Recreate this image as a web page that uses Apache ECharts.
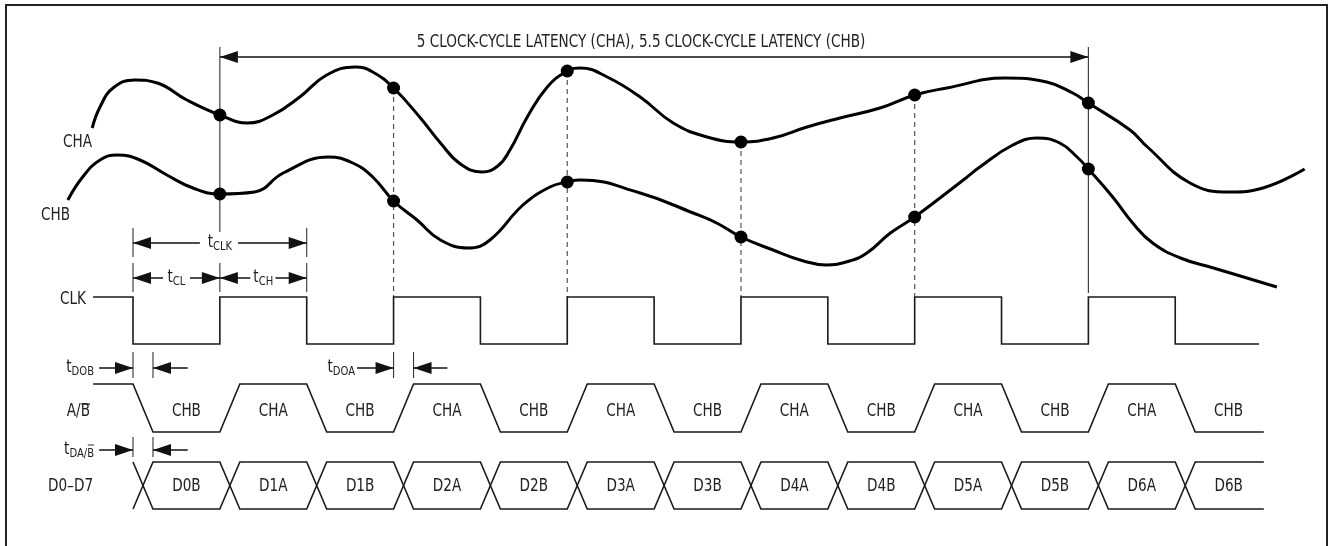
<!DOCTYPE html>
<html><head><meta charset="utf-8">
<script src="https://cdn.jsdelivr.net/npm/echarts@6/dist/echarts.min.js"></script>
<style>html,body{margin:0;padding:0;background:#fff}#c{width:1330px;height:546px}</style>
</head><body><div id="c"></div>
<script>
const FONT = '"Liberation Sans Narrow","DejaVu Sans Condensed","Arial Narrow",sans-serif';
const TEXT_SCALE = 0.89;
// x: time in half clock periods (t = 0 is the first CLK falling edge); y: diagram row position (downwards)
const clockEdges = [0,1,2,3,4,5,6,7,8,9,10,11,12];
const clkStart = -0.46, clkEnd = 12.965, clkHigh = 297, clkLow = 344;
const abStart = -0.46, abEnd = 13.02, abHigh = 384, abLow = 432;
const busEnd = 13.02, busTop = 462, busBottom = 509;
const transition = 0.23;
const abLabels = ['CHB','CHA','CHB','CHA','CHB','CHA','CHB','CHA','CHB','CHA','CHB','CHA','CHB'];
const busLabels = ['D0B','D1A','D1B','D2A','D2B','D3A','D3B','D4A','D4B','D5A','D5B','D6A','D6B'];
const abLabelY = 412, busLabelY = 487;

const chaCurve = [[-0.47,128],[-0.38,107],[-0.23,88],[0.02,80],[0.28,83],[0.62,100],[1,115],[1.32,123],[1.61,115],[1.92,97],[2.23,75],[2.56,67],[2.76,72],[3,88],[3.3,117],[3.54,143],[3.77,164],[4.02,172],[4.2,166],[4.34,150],[4.54,117],[4.77,87],[5,71],[5.15,68],[5.46,77],[5.84,97],[6.22,123],[6.61,137],[7,142],[7.37,138],[7.76,127],[8.14,118],[8.6,108],[9,95],[9.37,88],[10.04,78],[10.52,82],[10.82,93],[11,103],[11.48,130],[11.68,147],[12.17,183],[12.63,192],[13.01,188],[13.49,169]];
const chbCurve = [[-0.75,200],[-0.58,177],[-0.38,160],[-0.18,155],[0.08,160],[0.39,175],[0.69,188],[1,194],[1.4,192],[1.73,173],[2.25,157],[2.53,163],[2.76,177],[3,201],[3.27,220],[3.54,240],[3.86,248],[4.11,240],[4.49,205],[4.8,187],[5,182],[5.15,180],[5.84,193],[6.45,213],[6.72,223],[7,237],[7.37,250],[7.72,261],[7.98,265],[8.25,261],[8.45,253],[8.72,233],[9,217],[9.56,180],[9.75,167],[10.13,145],[10.41,138],[10.67,143],[10.87,157],[11,169],[11.28,197],[11.51,223],[11.74,243],[12.06,258],[12.44,268],[13.17,287]];
const sampleT = [1,3,5,7,9,11];
const chaSamples = [115,88,71,142,95,103];
const chbSamples = [194,201,182,237,217,169];

// dimension arrows: [tFrom, tTo, y, headAtFrom, headAtTo]
const dimArrows = [
  [1,11,57,1,1],
  [0,0.77,243,1,0],[1.21,2,243,0,1],
  [0,0.345,278,1,0],[0.656,1,278,0,1],
  [1,1.35,278,1,0],[1.64,2,278,0,1],
  [-0.39,0,368,0,1],[0.63,0.23,368,0,1],
  [2.58,3,368,0,1],[3.62,3.23,368,0,1],
  [-0.39,0,450,0,1],[0.63,0.23,450,0,1]
];
// vertical marker lines: [t, yTop, yBottom]
const solidMarkers = [[1,47,232],[11,47,293],[0,228,257],[2,228,257],[0,263,292],[1,263,292],[2,263,292],[0,352,378],[0.23,352,378],[3,352,378],[3.23,352,378],[0,437,457],[0.23,437,457]];
const dashedMarkers = [[3,88,297],[5,71,297],[7,142,297],[9,95,297]];
// text labels: [t, y, main, subscript, align, overline]
const labels = [
  [5.85,43,'5 CLOCK-CYCLE LATENCY (CHA), 5.5 CLOCK-CYCLE LATENCY (CHB)','','center',0],
  [-0.472,143,'CHA','','right',0],
  [-0.725,216,'CHB','','right',0],
  [-0.541,300,'CLK','','right',0],
  [-0.495,412,'A/B','','right',1],
  [-0.46,487,'D0–D7','','right',0],
  [1.0,243,'t','CLK','center',0],
  [0.5,278,'t','CL','center',0],
  [1.5,278,'t','CH','center',0],
  [-0.449,368,'t','DOB','right',0],
  [2.556,368,'t','DOA','right',0],
  [-0.449,450,'t','DA/B','right',2]
];

// build waveforms from the clock edges
const clk = [[clkStart, clkHigh]];
clockEdges.forEach(e => { const hi = e % 2 === 1; clk.push([e, hi ? clkLow : clkHigh], [e, hi ? clkHigh : clkLow]); });
clk.push([clkEnd, clkLow]);
const ab = [[abStart, abHigh]];
clockEdges.forEach(e => { const hi = e % 2 === 1; ab.push([e, hi ? abLow : abHigh], [e + transition, hi ? abHigh : abLow]); });
ab.push([abEnd, abLow]);
const busA = [], busB = [];
clockEdges.forEach(e => {
  const f = e % 2 === 0;
  busA.push([e, f ? busTop : busBottom], [e + transition, f ? busBottom : busTop]);
  busB.push([e, f ? busBottom : busTop], [e + transition, f ? busTop : busBottom]);
});
const lastA = busA[busA.length-1][1], lastB = busB[busB.length-1][1];
busA.push([busEnd, lastA]); busB.push([busEnd, lastB]);
const abText = abLabels.map((s,i) => [clockEdges[i] + 0.615, abLabelY, s]);
const busText = busLabels.map((s,i) => [clockEdges[i] + 0.615, busLabelY, s]);
const allText = abText.concat(busText);

const wave = (name, data, w) => ({type:'line', name, data, symbol:'none', animation:false,
  lineStyle:{color:'#1a1a1a', width:w, join:'miter'}});

const chart = echarts.init(document.getElementById('c'), null, {renderer:'canvas'});
chart.setOption({
  animation:false,
  grid:{left:0,right:0,top:0,bottom:0},
  xAxis:{type:'value', min:-1.5314, max:13.782, show:false},
  yAxis:{type:'value', min:0, max:546, inverse:true, show:false},
  graphic:[{type:'polyline', shape:{points:[[6,548],[6,5],[1327,5],[1327,548]]}, style:{stroke:'#222', lineWidth:2, fill:null}}],
  series:[
    {type:'line', name:'CHA', data:chaCurve, smooth:0.45, symbol:'none', lineStyle:{color:'#000', width:3}, z:5},
    {type:'line', name:'CHB', data:chbCurve, smooth:0.45, symbol:'none', lineStyle:{color:'#000', width:3}, z:5},
    {type:'scatter', data:sampleT.map((t,i)=>[t,chaSamples[i]]), symbolSize:13, itemStyle:{color:'#000', opacity:1}, z:6},
    {type:'scatter', data:sampleT.map((t,i)=>[t,chbSamples[i]]), symbolSize:13, itemStyle:{color:'#000', opacity:1}, z:6},
    wave('CLK', clk, 1.6),
    wave('AB', ab, 1.6),
    wave('busA', busA, 1.6),
    wave('busB', busB, 1.6),
    {type:'custom', data:solidMarkers, encode:{x:0,y:[1,2]}, renderItem:(p,api)=>{
      const a = api.coord([api.value(0), api.value(1)]), b = api.coord([api.value(0), api.value(2)]);
      return {type:'line', shape:{x1:a[0],y1:a[1],x2:b[0],y2:b[1]}, style:{stroke:'#333', lineWidth:1.1}};
    }},
    {type:'custom', data:dashedMarkers, encode:{x:0,y:[1,2]}, renderItem:(p,api)=>{
      const a = api.coord([api.value(0), api.value(1)]), b = api.coord([api.value(0), api.value(2)]);
      return {type:'line', shape:{x1:a[0],y1:a[1],x2:b[0],y2:b[1]}, style:{stroke:'#555', lineWidth:1.2, lineDash:[5,4]}};
    }},
    {type:'custom', data:dimArrows, encode:{x:[0,1],y:2}, renderItem:(p,api)=>{
      const a = api.coord([api.value(0), api.value(2)]), b = api.coord([api.value(1), api.value(2)]);
      const kids = [{type:'line', shape:{x1:a[0],y1:a[1],x2:b[0],y2:b[1]}, style:{stroke:'#111', lineWidth:1.5}}];
      const head = (tip, from) => { const d = Math.sign(tip[0]-from[0]), L = 18, H = 6;
        return {type:'polygon', shape:{points:[[tip[0],tip[1]],[tip[0]-d*L,tip[1]-H],[tip[0]-d*L,tip[1]+H]]}, style:{fill:'#111'}}; };
      if (api.value(3)) kids.push(head(a,b));
      if (api.value(4)) kids.push(head(b,a));
      return {type:'group', children:kids};
    }},
    {type:'custom', data:labels.map(l=>[l[0],l[1]]), encode:{x:0,y:1}, renderItem:(p,api)=>{
      const l = labels[p.dataIndex];
      const c = api.coord([l[0], l[1]]);
      const txt = l[3] ? `{m|${l[2]}}{s|${l[3]}}` : l[2];
      const kids = [{type:'text', style:{text:txt, x:0, y:0, align:l[4], verticalAlign:'middle',
        fill:'#222', fontSize:17, fontFamily:FONT,
        rich:{m:{fontSize:17, fontFamily:FONT, fill:'#222', lineHeight:22}, s:{fontSize:12.5, fontFamily:FONT, fill:'#222', lineHeight:22, padding:[8,0,0,0]}}}}];
      if (l[5] === 1) kids.push({type:'line', shape:{x1:-10,y1:-8,x2:0,y2:-8}, style:{stroke:'#222', lineWidth:1.2}});
      if (l[5] === 2) kids.push({type:'line', shape:{x1:-7,y1:-5,x2:0,y2:-5}, style:{stroke:'#222', lineWidth:1}});
      return {type:'group', x:c[0], y:c[1], scaleX:TEXT_SCALE, children:kids};
    }},
    {type:'custom', data:allText.map(d=>[d[0],d[1]]), encode:{x:0,y:1}, renderItem:(p,api)=>{
      const d = allText[p.dataIndex];
      const c = api.coord([d[0], d[1]]);
      return {type:'text', x:c[0], y:c[1], scaleX:TEXT_SCALE, style:{text:d[2], x:0, y:0, align:'center', verticalAlign:'middle', fill:'#222', fontSize:17, fontFamily:FONT}};
    }}
  ]
});
</script></body></html>
